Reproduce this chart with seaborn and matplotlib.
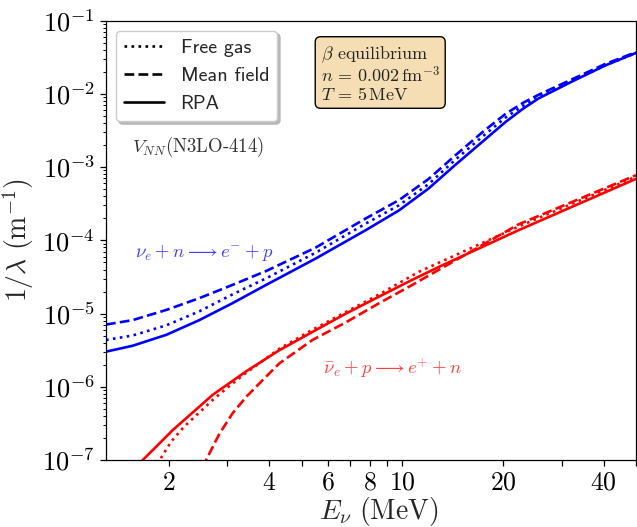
import numpy as np
import pandas as pd
import matplotlib
matplotlib.use('Agg')
import matplotlib.pyplot as plt
import seaborn as sns
from matplotlib.lines import Line2D
from matplotlib.ticker import FixedLocator, NullLocator, FuncFormatter, NullFormatter

# ---------------- data ----------------
models = ['Free gas', 'Mean field', 'RPA']

# nu_e + n -> e^- + p  (blue)
nu_E = [1.30, 1.56, 1.97, 2.47, 3.10, 3.91, 5.5, 7.78, 9.78, 12.0, 14.4, 17.5, 20.4, 23.0, 25.6, 32.2, 40.5, 50.0]
nu_free_log = [-5.36, -5.30, -5.16, -4.97, -4.74, -4.52, -4.17, -3.77, -3.52, -3.23, -2.90, -2.57, -2.32, -2.16, -2.04, -1.82, -1.61, -1.44]
nu_mf_log = [-5.15, -5.09, -4.95, -4.79, -4.61, -4.42, -4.10, -3.70, -3.45, -3.16, -2.84, -2.51, -2.27, -2.12, -2.01, -1.80, -1.59, -1.43]
nu_rpa_log = [-5.52, -5.44, -5.29, -5.09, -4.86, -4.61, -4.25, -3.86, -3.59, -3.29, -2.97, -2.64, -2.38, -2.20, -2.06, -1.83, -1.61, -1.44]

# anti-nu_e + p -> e^+ + n  (red)
nub_free_E = [1.82, 1.90, 2.035, 2.22, 2.46, 2.71, 3.04, 3.41, 4.29, 5.39, 8.51, 11.2, 22.3, 50.0]
nub_free_log = [-7.25, -6.97, -6.75, -6.55, -6.36, -6.18, -5.99, -5.81, -5.48, -5.22, -4.74, -4.43, -3.81, -3.13]
nub_mf_E = [2.52, 2.59, 2.84, 3.11, 3.41, 3.82, 4.29, 5.39, 6.78, 8.51, 10.7, 22.3, 50.0]
nub_mf_log = [-7.3, -7.0, -6.64, -6.36, -6.14, -5.91, -5.68, -5.36, -5.12, -4.86, -4.61, -3.78, -3.11]
nub_rpa_E = [1.55, 1.675, 2.06, 2.71, 3.41, 4.29, 5.39, 6.78, 8.51, 10.7, 12.9, 22.3, 50.0]
nub_rpa_log = [-7.18, -7.0, -6.59, -6.11, -5.79, -5.50, -5.25, -5.00, -4.77, -4.54, -4.36, -3.86, -3.16]

x_ticks = [2, 3, 4, 5, 6, 7, 8, 9, 10, 20, 30, 40, 50]
x_ticklabels = ['2', '', '4', '', '6', '', '8', '', '10', '20', '', '40', '']
y_decades = [-7, -6, -5, -4, -3, -2, -1]

# ---------------- build table ----------------
curves = [
    ('nu', 'Free gas', nu_E, nu_free_log),
    ('nu', 'Mean field', nu_E, nu_mf_log),
    ('nu', 'RPA', nu_E, nu_rpa_log),
    ('nubar', 'Free gas', nub_free_E, nub_free_log),
    ('nubar', 'Mean field', nub_mf_E, nub_mf_log),
    ('nubar', 'RPA', nub_rpa_E, nub_rpa_log),
]
df = pd.concat([pd.DataFrame({'E': E, 'rate': 10.0 ** np.asarray(lg), 'reaction': rx, 'model': m})
                for rx, m, E, lg in curves], ignore_index=True)

# ---------------- style ----------------
sns.set_style('ticks')
plt.rcParams['mathtext.fontset'] = 'cm'
plt.rcParams['font.family'] = ['cmr10', 'DejaVu Serif']
plt.rcParams['axes.formatter.use_mathtext'] = True
plt.rcParams['axes.edgecolor'] = 'black'
plt.rcParams['xtick.color'] = 'black'
plt.rcParams['ytick.color'] = 'black'

fig = plt.figure(figsize=(6.37, 5.27), dpi=100)
ax = fig.add_axes([0.1664, 0.1271, 0.8320, 0.8336])
ax.set_xscale('log')
ax.set_yscale('log')

dash_map = {'Free gas': (1, 1.65), 'Mean field': (3.7, 1.6), 'RPA': ''}
sns.lineplot(data=df, x='E', y='rate', hue='reaction', style='model',
             palette={'nu': 'blue', 'nubar': 'red'}, dashes=dash_map,
             estimator=None, sort=True, lw=1.9, legend=False, ax=ax)

ax.set_xlim(1.3, 50)
ax.set_ylim(1e-7, 1e-1)

ax.set_xticks(x_ticks)
ax.set_xticklabels(['$%s$' % t if t else '' for t in x_ticklabels])
ax.xaxis.set_minor_locator(NullLocator())

y_major = [10.0 ** d for d in y_decades]
y_minor = [m * 10.0 ** d for d in y_decades[:-1] for m in range(2, 10)]
ax.set_yticks(y_major)
ax.set_yticklabels([r'$10^{%d}$' % d for d in y_decades])
ax.yaxis.set_minor_locator(FixedLocator(y_minor))
ax.yaxis.set_minor_formatter(NullFormatter())

ax.tick_params(axis='x', which='major', labelsize=18.5, length=4.5, width=0.9)
ax.tick_params(axis='y', which='major', labelsize=19, length=4.5, width=0.9)
ax.tick_params(axis='y', which='minor', length=2.5, width=0.7)
for s in ax.spines.values():
    s.set_linewidth(0.9)
    s.set_color('black')

ax.set_xlabel(r'$E_\nu\ (\mathrm{MeV})$', fontsize=20)
ax.set_ylabel(r'$1/\lambda\ (\mathrm{m}^{-1})$', fontsize=20, labelpad=4)
ax.xaxis.set_label_coords(0.515, -0.079)

# legend (black style keys)
handles = [Line2D([], [], color='black', lw=1.9, dashes=dash_map[m]) if m != 'RPA'
           else Line2D([], [], color='black', lw=1.9, ls='-') for m in models]
leg = ax.legend(handles, models, loc='upper left', prop={'family': 'cmss10', 'size': 14.5},
                frameon=True, fancybox=True, shadow={'color': '0.72', 'alpha': 1.0},
                framealpha=1.0, edgecolor='0.8')

ax.text(0.1736, 0.7125, r'$V_{NN}$(N3LO-414)', transform=ax.transAxes,
        ha='center', va='center', fontsize=13.5, color='#333333')
ax.text(0.405, 0.945,
        r'$\beta$ equilibrium' + '\n' + r'$n\,=\,0.002\,\mathrm{fm}^{-3}$' + '\n' + r'$T\,=\,5\,\mathrm{MeV}$',
        transform=ax.transAxes, ha='left', va='top', fontsize=13, linespacing=1.0,
        bbox=dict(boxstyle='round,pad=0.3', facecolor='wheat', edgecolor='black', lw=1))
ax.text(0.185, 0.4735, r'$\nu_e + n \longrightarrow e^{-} + p$', transform=ax.transAxes,
        ha='center', va='center', fontsize=13.5, color='#4040ff')
ax.text(0.54, 0.2094, r'$\bar{\nu}_e + p \longrightarrow e^{+} + n$', transform=ax.transAxes,
        ha='center', va='center', fontsize=13.5, color='#ff4040')

fig.savefig('out.png', dpi=100)
